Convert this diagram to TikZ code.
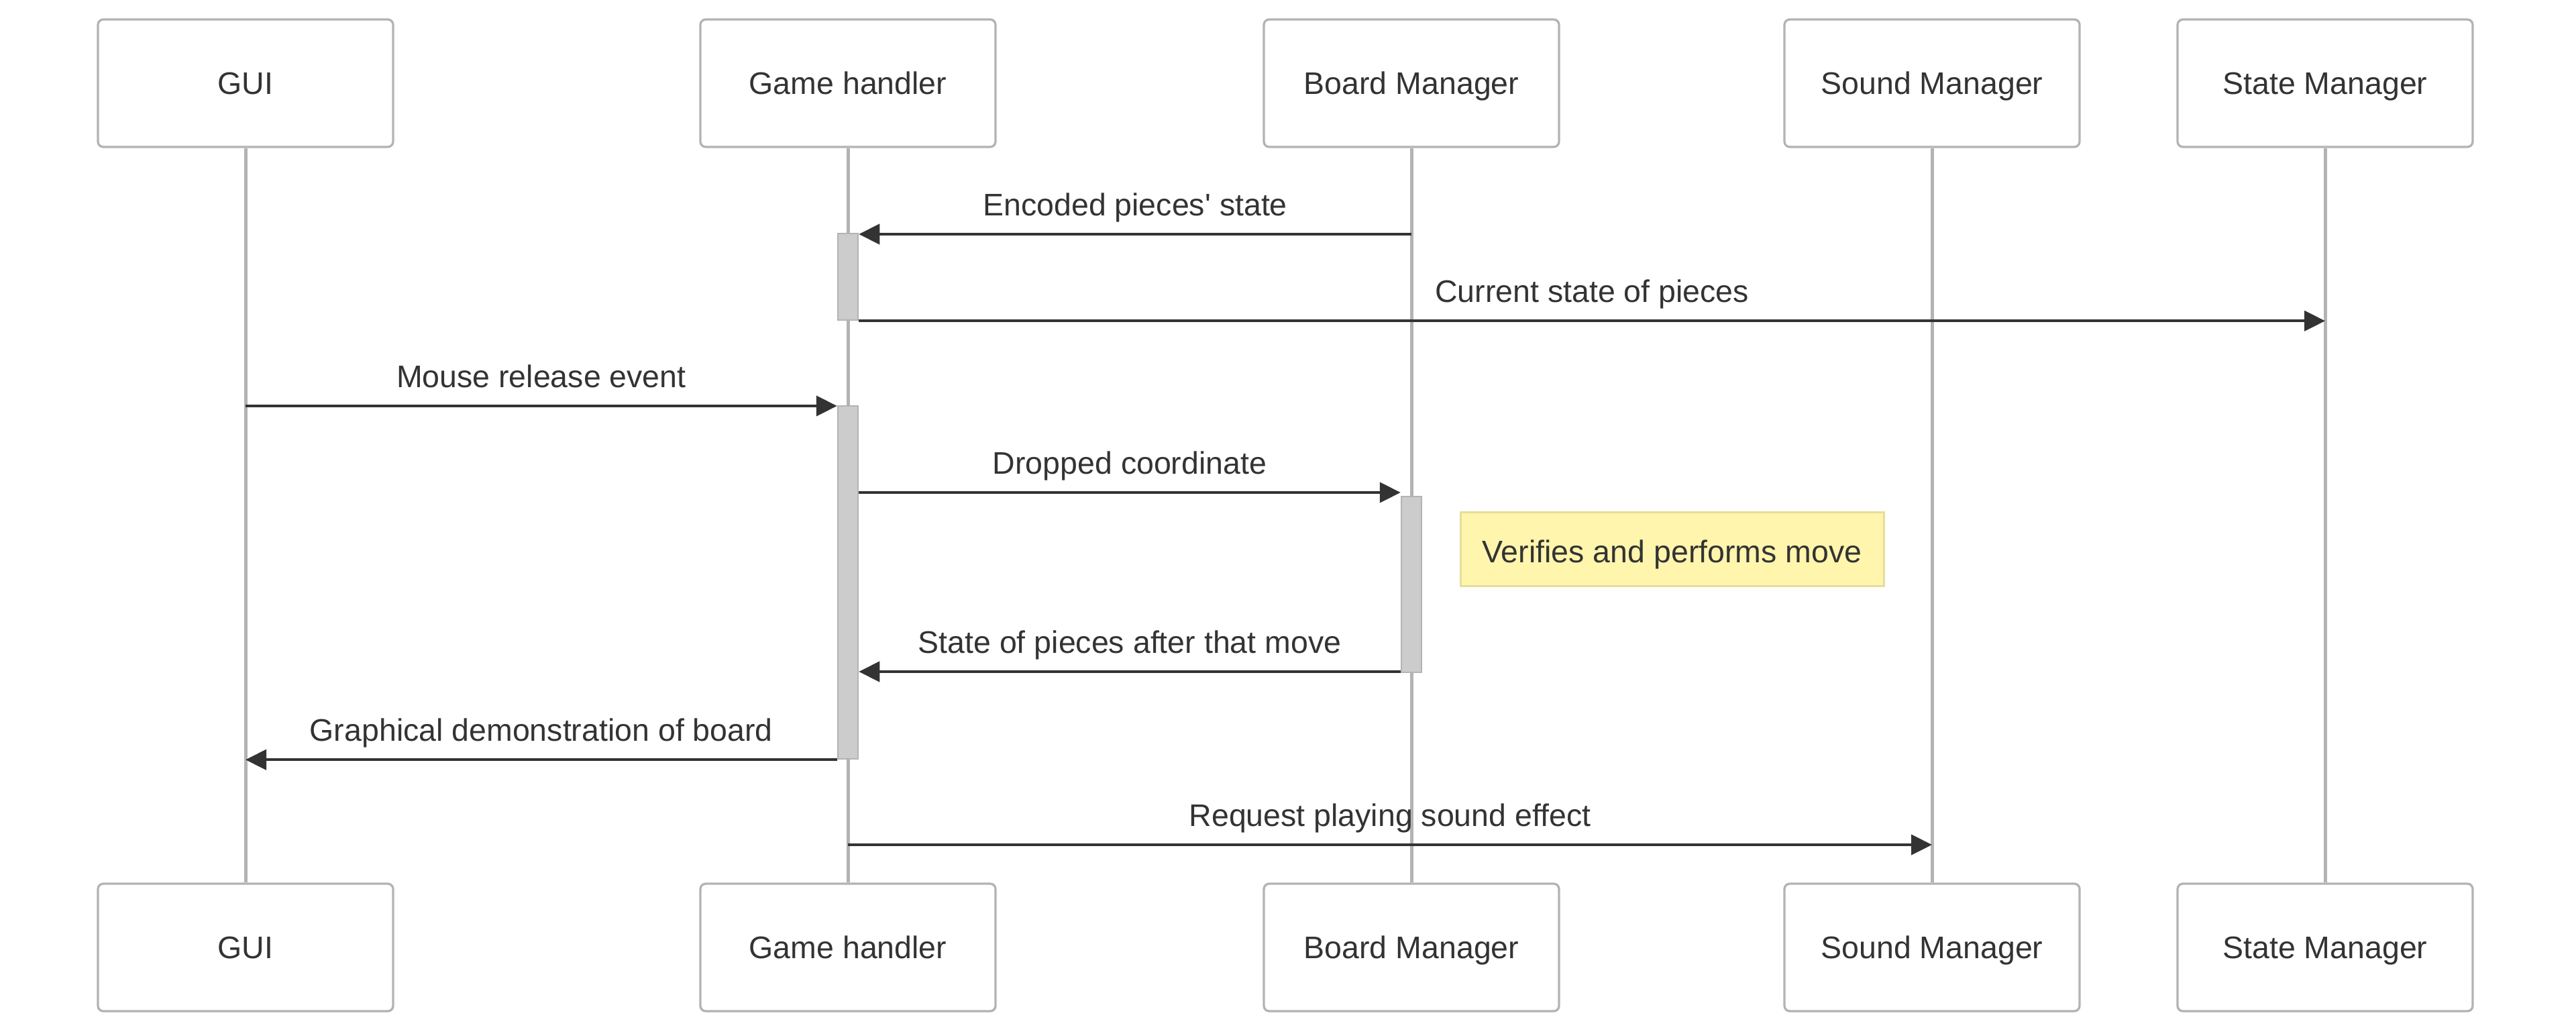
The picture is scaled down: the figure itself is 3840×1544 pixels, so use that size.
\documentclass[tikz,border=0pt]{standalone}
\usepackage{fontspec}
\setmainfont{Liberation Sans}
\usetikzlibrary{arrows.meta}
\definecolor{boxline}{HTML}{B3B3B3}
\definecolor{txt}{HTML}{333333}
\definecolor{actfill}{HTML}{CCCCCC}
\definecolor{notefill}{HTML}{FFF5AD}
\definecolor{noteline}{HTML}{E6DE98}
\tikzset{
  basefont/.style={font=\fontsize{46.5}{56}\selectfont, text=txt},
  actor/.style={draw=boxline, line width=3.3pt, fill=white, rounded corners=8pt,
    minimum width=440pt, minimum height=190pt, inner sep=0pt, basefont,
    text height=32pt, text depth=0pt},
  lifeline/.style={draw=boxline, line width=5pt},
  activation/.style={draw=boxline, line width=2.5pt, fill=actfill,
    minimum width=30pt, inner sep=0pt},
  msg/.style={draw=txt, line width=4.3pt, -{Triangle[length=31pt,width=30pt]}},
  msglabel/.style={basefont, anchor=base, yshift=28pt, inner sep=0pt},
  notebox/.style={draw=noteline, line width=3pt, fill=notefill, minimum width=631pt,
    minimum height=110pt, inner sep=0pt, basefont, text height=40pt, text depth=0pt}
}
\begin{document}
\begin{tikzpicture}[x=1pt,y=-1pt]
\useasboundingbox[fill=white] (0,0) rectangle (3840,1544);

% actors top
\node[actor] (guiT)   at (366,124)  {GUI};
\node[actor] (ghT)    at (1264,124) {Game handler};
\node[actor] (boardT) at (2104,124) {Board Manager};
\node[actor] (soundT) at (2880,124) {Sound Manager};
\node[actor] (stateT) at (3466,124) {State Manager};
% actors bottom
\node[actor] (guiB)   at (366,1412)  {GUI};
\node[actor] (ghB)    at (1264,1412) {Game handler};
\node[actor] (boardB) at (2104,1412) {Board Manager};
\node[actor] (soundB) at (2880,1412) {Sound Manager};
\node[actor] (stateB) at (3466,1412) {State Manager};

% lifelines
\draw[lifeline] (guiT.south) -- (guiB.north);
\draw[lifeline] (ghT.south) -- (ghB.north);
\draw[lifeline] (boardT.south) -- (boardB.north);
\draw[lifeline] (soundT.south) -- (soundB.north);
\draw[lifeline] (stateT.south) -- (stateB.north);

% activations
\node[activation, minimum height=129pt] (act1) at (1264,412.5) {};
\node[activation, minimum height=526pt] (act2) at (1264,868) {};
\node[activation, minimum height=262pt] (actB) at (2104,871) {};

% note
\node[notebox] (note) at (2492.5,818) {Verifies and performs move};

% message anchors
\coordinate (m1) at (2104,349);
\coordinate (m3) at (366,605);
\coordinate (m4) at (1264,734);
\coordinate (m5) at (2104,1001);
\coordinate (m7) at (1264,1259);

% messages
\draw[msg] (m1) -- node[msglabel] {Encoded pieces\textquotesingle{} state} (m1 -| act1.east);
\draw[msg] (act1.south east) -- node[msglabel] {Current state of pieces} (act1.south east -| stateT.south);
\draw[msg] (m3) -- node[msglabel] {Mouse release event} (m3 -| act2.west);
\draw[msg] (m4 -| act2.east) -- node[msglabel] {Dropped coordinate} (m4 -| actB.west);
\draw[msg] (m5 -| actB.west) -- node[msglabel] {State of pieces after that move} (m5 -| act2.east);
\draw[msg] (act2.south west) -- node[msglabel] {Graphical demonstration of board} (act2.south west -| guiT.south);
\draw[msg] (m7) -- node[msglabel] {Request playing sound effect} (m7 -| soundT.south);
\end{tikzpicture}
\end{document}
